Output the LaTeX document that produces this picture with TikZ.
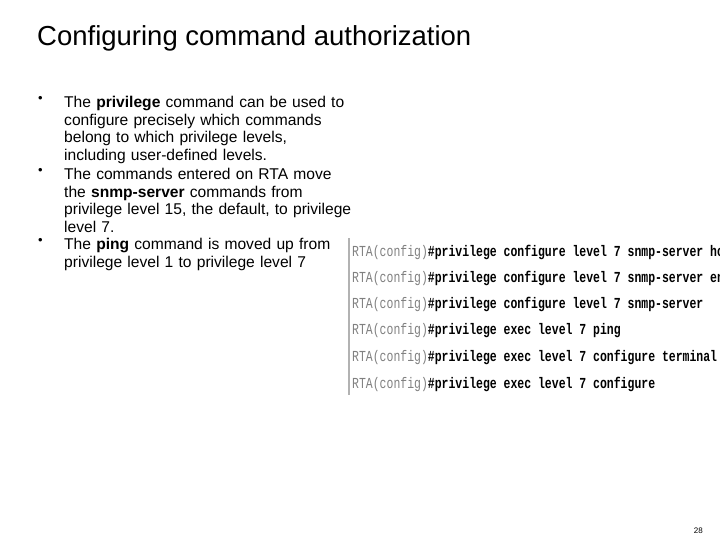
\documentclass[tikz,border=0pt]{standalone}
\usepackage{fontspec}
\usepackage{graphicx}
\setmainfont{Liberation Sans}
\newfontfamily\codefont{Liberation Mono}
\begin{document}
\begin{tikzpicture}[x=1pt,y=-1pt,
  body/.style={anchor=north west,inner sep=0pt,align=left,text width=320pt,font=\fontsize{15.6}{17.5}\selectfont},
  bul/.style={anchor=north west,inner sep=0pt,font=\fontsize{13}{14}\selectfont},
  code/.style={anchor=west,inner sep=0pt,font=\codefont\bfseries\fontsize{15.3}{16}\selectfont}]
\useasboundingbox (0,0) rectangle (720,540);
\node[anchor=west,inner sep=0pt,font=\fontsize{27.5}{30}\selectfont] (title) at (37,38) {Configuring command authorization};
\node[bul] (b1) at (38,96) {•};
\node[bul] (b2) at (38,168) {•};
\node[bul] (b3) at (38,238) {•};
\node[body] (t1) at (64,96) {The \textbf{privilege} command can be used to\\configure precisely which commands\\belong to which privilege levels,\\including user-defined levels.};
\node[body] (t2) at (64,168) {The commands entered on RTA move\\the \textbf{snmp-server} commands from\\privilege level 15, the default, to privilege\\level 7.};
\node[body] (t3) at (64,238) {The \textbf{ping} command is moved up from\\privilege level 1 to privilege level 7};
\draw[gray!60,line width=1.2pt] (349,238) -- (349,395);
\foreach \y/\t [count=\i] in {252/configure level 7 snmp-server host,278/configure level 7 snmp-server enable,304/configure level 7 snmp-server,331/exec level 7 ping,357/exec level 7 configure terminal,384/exec level 7 configure}
  \node[code] (c\i) at (352,\y) {\scalebox{0.75}[1]{{\mdseries\color{gray}RTA(config)}\#privilege \t}};
\node[anchor=east,inner sep=0pt,font=\fontsize{8}{9}\selectfont] (pg) at (703,531) {28};
\end{tikzpicture}
\end{document}
